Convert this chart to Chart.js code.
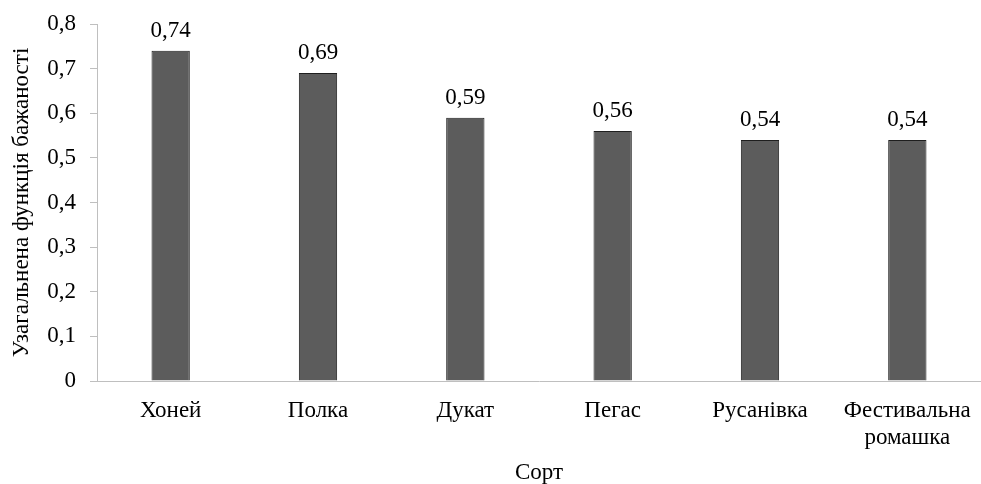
<!DOCTYPE html>
<html>
<head>
<meta charset="utf-8">
<script src="https://cdn.jsdelivr.net/npm/chart.js@4"></script>
<style>
  html, body { margin: 0; padding: 0; background: #fff; }
  #wrap { width: 981px; height: 484px; }
</style>
</head>
<body>
<div id="wrap"><canvas id="myChart"></canvas></div>
<script>
var sorts = [['Хоней'], ['Полка'], ['Дукат'], ['Пегас'], ['Русанівка'], ['Фестивальна', 'ромашка']];
var values = [0.74, 0.69, 0.59, 0.56, 0.54, 0.54];
var yTitle = 'Узагальнена функція бажаності';
var xTitle = 'Сорт';

var serif = "'Liberation Serif', 'Times New Roman', serif";
var fontSize = 23;

function fmt(v) {
	if (v === 0) return '0';
	return String(Math.round(v * 100) / 100).replace('.', ',');
}

// labels above the bars
var valueLabels = {
	id: 'valueLabels',
	afterDatasetsDraw: function(chart) {
		var ctx = chart.ctx;
		var meta = chart.getDatasetMeta(0);
		ctx.save();
		ctx.font = fontSize + 'px ' + serif;
		ctx.fillStyle = '#000';
		ctx.textAlign = 'center';
		ctx.textBaseline = 'alphabetic';
		meta.data.forEach(function(bar, i) {
			ctx.fillText(fmt(values[i]), bar.x, bar.y - 14);
		});
		ctx.restore();
	}
};

var ctx = document.getElementById('myChart').getContext('2d');
var chart = new Chart(ctx, {
	type: 'bar',
	data: {
		labels: sorts,
		datasets: [{
			data: values,
			backgroundColor: '#5c5c5c',
			borderColor: '#1e1e1e',
			borderWidth: 1,
			categoryPercentage: 1,
			barPercentage: 0.26
		}]
	},
	plugins: [valueLabels],
	options: {
		responsive: true,
		maintainAspectRatio: false,
		animation: false,
		layout: { padding: { top: 24, right: 0, bottom: 0, left: 0 } },
		plugins: {
			legend: { display: false },
			tooltip: { enabled: false }
		},
		scales: {
			x: {
				grid: { display: false, drawTicks: false },
				border: { color: '#bfbfbf', width: 1 },
				ticks: {
					color: '#000',
					font: { family: serif, size: fontSize },
					padding: 16,
					maxRotation: 0,
					autoSkip: false
				},
				title: {
					display: true,
					text: xTitle,
					color: '#000',
					font: { family: serif, size: fontSize, lineHeight: 1 },
					padding: { top: 0, bottom: 0 }
				},
				afterFit: function(scale) {
					scale.height = 103;
					scale.paddingLeft = 0;
					scale.paddingRight = 0;
				}
			},
			y: {
				min: 0,
				max: 0.8,
				grid: {
					display: true,
					drawOnChartArea: false,
					drawTicks: true,
					tickLength: 7,
					color: '#bfbfbf'
				},
				border: { color: '#bfbfbf', width: 1 },
				ticks: {
					stepSize: 0.1,
					color: '#000',
					font: { family: serif, size: fontSize },
					padding: 14,
					callback: function(v) { return fmt(v); }
				},
				title: {
					display: true,
					text: yTitle,
					color: '#000',
					font: { family: serif, size: fontSize },
					padding: { top: 8, bottom: 0 }
				},
				afterFit: function(scale) {
					scale.width = 97;
					scale.paddingTop = 0;
					scale.paddingBottom = 0;
				}
			}
		}
	}
});
</script>
</body>
</html>
